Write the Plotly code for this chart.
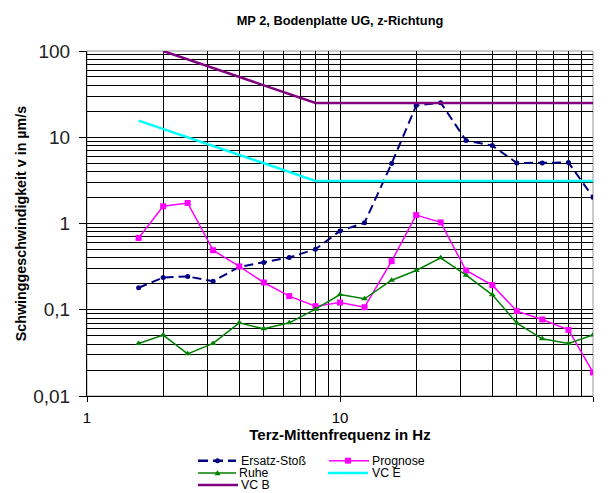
import plotly.graph_objects as go

freq = [1.6, 2, 2.5, 3.15, 4, 5, 6.3, 8, 10, 12.5, 16, 20, 25, 31.5, 40, 50, 63, 80, 100]
ersatz = [0.18, 0.237, 0.243, 0.214, 0.314, 0.353, 0.404, 0.504, 0.82, 1.02, 4.96, 23.3, 25.2, 9.16, 8.0, 5.03, 5.03, 5.1, 2.02]
prognose = [0.68, 1.585, 1.73, 0.49, 0.318, 0.207, 0.144, 0.110, 0.121, 0.107, 0.366, 1.25, 1.03, 0.285, 0.193, 0.0964, 0.0772, 0.0585, 0.0188]
ruhe = [0.0407, 0.0508, 0.0308, 0.0407, 0.0705, 0.0601, 0.0705, 0.1016, 0.150, 0.134, 0.220, 0.285, 0.40, 0.252, 0.149, 0.070, 0.046, 0.0407, 0.051]
vcb_f = [2, 8, 100]
vcb = [100, 25, 25]
vce_f = [1.6, 8, 100]
vce = [15.6, 3.12, 3.12]

y_major = [0.01, 0.1, 1, 10, 100]
y_labels = ["0,01", "0,1", "1", "10", "100"]
x_major = [1, 10, 100]
x_labels = ["1", "10", "100"]

FONT = "Liberation Sans, Arial, sans-serif"

# page has an 8px body margin; figure sized so it reaches the window's right/bottom edges
W, H = 597, 485
L, R, T, B = 79, 12, 42.7, 97
PW, PH = W - L - R, H - T - B


def px(sx):  # screen x -> paper x
    return (sx - 8 - L) / PW


def py(sy):  # screen y -> paper y
    return (H - B - (sy - 8)) / PH


series = [
    dict(name="Ersatz-Stoß", x=freq, y=ersatz, color="#000080", width=2, dash="9px,5px",
         symbol="circle", msize=5),
    dict(name="Prognose", x=freq, y=prognose, color="#FF00FF", width=1.5, dash="solid",
         symbol="square", msize=6),
    dict(name="Ruhe", x=freq, y=ruhe, color="#008000", width=1.5, dash="solid",
         symbol="triangle-up", msize=6),
    dict(name="VC E", x=vce_f, y=vce, color="#00FFFF", width=2.5, dash="solid",
         symbol=None, msize=0),
    dict(name="VC B", x=vcb_f, y=vcb, color="#800080", width=2.5, dash="solid",
         symbol=None, msize=0),
]

fig = go.Figure()
for s in series:
    if s["symbol"]:
        fig.add_trace(go.Scatter(x=s["x"], y=s["y"], name=s["name"], mode="lines+markers",
                                 line=dict(color=s["color"], width=s["width"], dash=s["dash"]),
                                 marker=dict(symbol=s["symbol"], size=s["msize"], color=s["color"]),
                                 showlegend=False))
    else:
        fig.add_trace(go.Scatter(x=s["x"], y=s["y"], name=s["name"], mode="lines",
                                 line=dict(color=s["color"], width=s["width"], dash=s["dash"]),
                                 showlegend=False))

# custom compact legend (two columns, row-major)
legend_slots = [
    # (line x0, line x1, marker x, text x, row y)
    (198, 236, 217.5, 240, 460.7),
    (329, 369, 348, 371, 460.7),
    (198, 236, 217.5, 238, 473),
    (328, 368, 348, 371, 473),
    (198, 238, 217.5, 240, 485),
]
shapes = []
annotations = []
for s, (lx0, lx1, mx, tx, ry) in zip(series, legend_slots):
    dashed = s["dash"] != "solid"
    shapes.append(dict(type="line", xref="paper", yref="paper", x0=px(lx0), x1=px(lx1),
                       y0=py(ry), y1=py(ry),
                       line=dict(color=s["color"], width=s["width"] + (0.5 if dashed else 0),
                                 dash="10px,5px" if dashed else "solid")))
    if s["symbol"]:
        r = s["msize"] / 2
        common = dict(xref="paper", yref="paper", xsizemode="pixel", ysizemode="pixel",
                      xanchor=px(mx), yanchor=py(ry), fillcolor=s["color"],
                      line=dict(color=s["color"], width=0))
        if s["symbol"] == "circle":
            shapes.append(dict(type="circle", x0=-r, x1=r, y0=-r, y1=r, **common))
        elif s["symbol"] == "square":
            shapes.append(dict(type="rect", x0=-r, x1=r, y0=-r, y1=r, **common))
        else:
            shapes.append(dict(type="path", path=f"M {-r},{-r*0.8} L {r},{-r*0.8} L 0,{r*1.0} Z", **common))
    annotations.append(dict(text=s["name"], xref="paper", yref="paper", x=px(tx), y=py(ry),
                            xanchor="left", yanchor="middle", showarrow=False,
                            font=dict(size=12.3, color="black", family=FONT), borderpad=0))

minor_y = [d * k for d in [0.01, 0.1, 1, 10] for k in range(2, 10)]
minor_x = [d * k for d in [1, 10] for k in range(2, 10)]

shapes.append(dict(type="rect", xref="paper", yref="paper", x0=0, x1=1, y0=0, y1=1,
                   line=dict(color="#999999", width=1), fillcolor="rgba(0,0,0,0)", layer="below"))

fig.update_layout(
    width=W, height=H,
    margin=dict(l=L, r=R, t=T, b=B, autoexpand=False),
    paper_bgcolor="white", plot_bgcolor="white",
    font=dict(family=FONT, color="black"),
    title=dict(text="<b>MP 2, Bodenplatte UG, z-Richtung</b>", x=(340 - 8) / W, xanchor="center",
               xref="container", yref="container",
               y=1 - (21 - 8) / H, yanchor="middle", font=dict(size=12.8)),
    showlegend=False,
    shapes=shapes,
    annotations=annotations,
)
fig.update_xaxes(type="log", range=[0, 2], tickvals=x_major, ticktext=x_labels,
                 ticks="outside", ticklen=5, tickcolor="black", tickwidth=1,
                 showgrid=True, gridcolor="black", gridwidth=1,
                 minor=dict(tickvals=minor_x, showgrid=True, gridcolor="black", gridwidth=1, ticks=""),
                 showline=True, linecolor="black", linewidth=1, mirror=False,
                 tickfont=dict(size=15), zeroline=False, ticklabelstandoff=3,
                 title=dict(text="<b>Terz-Mittenfrequenz in Hz</b>", font=dict(size=15), standoff=2))
fig.update_yaxes(type="log", range=[-2, 2], tickvals=y_major, ticktext=y_labels,
                 ticks="outside", ticklen=7, tickcolor="black", tickwidth=1,
                 showgrid=True, gridcolor="black", gridwidth=1,
                 minor=dict(tickvals=minor_y, showgrid=True, gridcolor="black", gridwidth=1, ticks=""),
                 showline=True, linecolor="black", linewidth=1, mirror=False,
                 tickfont=dict(size=19, color="#222222"), zeroline=False, ticklabelstandoff=5,
                 title=dict(text="<b>Schwinggeschwindigkeit v in µm/s</b>", font=dict(size=14.3), standoff=3))

fig.write_html("out.html")
